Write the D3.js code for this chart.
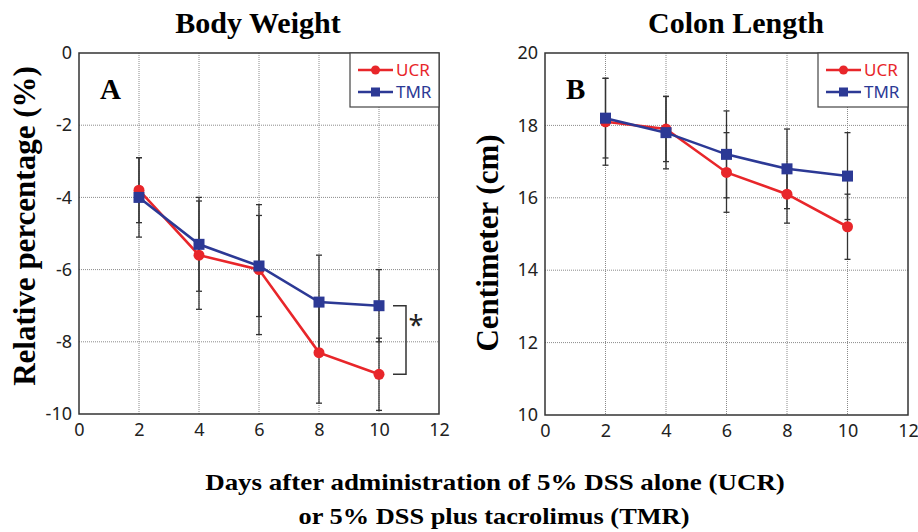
<!DOCTYPE html>
<html><head><meta charset="utf-8">
<script src="https://cdn.jsdelivr.net/npm/d3@7/dist/d3.min.js"></script>
<style>
body{margin:0;background:#fff;}
svg{display:block;}
</style></head>
<body>
<svg id="chart" width="918" height="532"></svg>
<script>
// ---- data ----
const days = [2, 4, 6, 8, 10];
const bwUCR = [-3.8, -5.6, -6.0, -8.3, -8.9];
const bwUCRerr = [0.9, 1.5, 1.8, 1.4, 1.0];
const bwTMR = [-4.0, -5.3, -5.9, -6.9, -7.0];
const bwTMRerr = [1.1, 1.3, 1.4, 1.3, 1.0];
const clUCR = [18.1, 17.9, 16.7, 16.1, 15.2];
const clUCRerr = [1.2, 0.9, 1.1, 0.8, 0.9];
const clTMR = [18.2, 17.8, 17.2, 16.8, 16.6];
const clTMRerr = [1.1, 1.0, 1.2, 1.1, 1.2];
const xTicks = [0, 2, 4, 6, 8, 10, 12];
const bwTicks = [0, -2, -4, -6, -8, -10];
const clTicks = [10, 12, 14, 16, 18, 20];
const seriesNames = ["UCR", "TMR"];

const RED = "#e8262a", BLUE = "#2c3995";
const serif = "'Liberation Serif','Times New Roman',serif";
const sans = "'Noto Sans','Open Sans',sans-serif";

const svg = d3.select("#chart");

function panel(opts) {
  const x = d3.scaleLinear().domain([0, 12]).range([opts.left, opts.right]);
  const y = d3.scaleLinear().domain(opts.yDomain).range([opts.bottom, opts.top]);
  const g = svg.append("g");

  // grid
  g.selectAll(".vg").data(xTicks.slice(1, -1)).enter().append("line")
    .attr("x1", d => x(d)).attr("x2", d => x(d))
    .attr("y1", opts.top).attr("y2", opts.bottom)
    .attr("stroke", "#8a8a8a").attr("stroke-width", 1).attr("stroke-dasharray", "1,1");
  g.selectAll(".hg").data(opts.yTicks.slice(1, -1)).enter().append("line")
    .attr("y1", d => y(d)).attr("y2", d => y(d))
    .attr("x1", opts.left).attr("x2", opts.right)
    .attr("stroke", "#8a8a8a").attr("stroke-width", 1).attr("stroke-dasharray", "1,1");

  // axes
  const ax = g.append("g").attr("transform", `translate(0,${opts.bottom})`)
    .call(d3.axisBottom(x).tickValues(xTicks).tickSize(0).tickPadding(9).tickFormat(d3.format("d")));
  const ay = g.append("g").attr("transform", `translate(${opts.left},0)`)
    .call(d3.axisLeft(y).tickValues(opts.yTicks).tickSize(0).tickPadding(7).tickFormat(d => d < 0 ? "-" + Math.abs(d) : d));
  [ax, ay].forEach(a => {
    a.select(".domain").remove();
    a.selectAll("text").attr("font-family", sans).attr("font-size", 18).attr("fill", "#222");
  });

  // frame
  g.append("rect").attr("x", opts.left).attr("y", opts.top)
    .attr("width", opts.right - opts.left).attr("height", opts.bottom - opts.top)
    .attr("fill", "none").attr("stroke", "#333").attr("stroke-width", 1.5);

  // error bars
  const series = [
    {v: opts.ucr, e: opts.ucrErr, color: RED, shape: "circle"},
    {v: opts.tmr, e: opts.tmrErr, color: BLUE, shape: "square"}
  ];
  series.forEach(s => {
    days.forEach((d, i) => {
      const px = x(d), y1 = y(s.v[i] + s.e[i]), y2 = y(s.v[i] - s.e[i]);
      g.append("line").attr("x1", px).attr("x2", px).attr("y1", y1).attr("y2", y2)
        .attr("stroke", "#333").attr("stroke-width", 1.3);
      [y1, y2].forEach(yy => g.append("line").attr("x1", px - 3).attr("x2", px + 3)
        .attr("y1", yy).attr("y2", yy).attr("stroke", "#333").attr("stroke-width", 1.3));
    });
  });

  // lines + markers
  const line = d3.line().x(d => x(d[0])).y(d => y(d[1]));
  series.forEach(s => {
    const pts = days.map((d, i) => [d, s.v[i]]);
    g.append("path").datum(pts).attr("d", line).attr("fill", "none")
      .attr("stroke", s.color).attr("stroke-width", 2.6);
    if (s.shape === "circle") {
      g.selectAll(null).data(pts).enter().append("circle")
        .attr("cx", d => x(d[0])).attr("cy", d => y(d[1])).attr("r", 5.5).attr("fill", s.color);
    } else {
      g.selectAll(null).data(pts).enter().append("rect")
        .attr("x", d => x(d[0]) - 5.5).attr("y", d => y(d[1]) - 5.5)
        .attr("width", 11).attr("height", 11).attr("fill", s.color);
    }
  });

  // legend
  const lg = g.append("g");
  lg.append("rect").attr("x", opts.legX).attr("y", opts.top)
    .attr("width", opts.right - opts.legX).attr("height", 54)
    .attr("fill", "#fff").attr("stroke", "#444").attr("stroke-width", 1.2);
  seriesNames.forEach((n, i) => {
    const yy = opts.top + 17 + i * 22;
    const lx = opts.legX + 8;
    const c = i === 0 ? RED : BLUE;
    lg.append("line").attr("x1", lx).attr("x2", lx + 35).attr("y1", yy).attr("y2", yy)
      .attr("stroke", c).attr("stroke-width", 2.4);
    if (i === 0) lg.append("circle").attr("cx", lx + 17.5).attr("cy", yy).attr("r", 4.5).attr("fill", c);
    else lg.append("rect").attr("x", lx + 13).attr("y", yy - 4.5).attr("width", 9).attr("height", 9).attr("fill", c);
    lg.append("text").attr("x", lx + 38).attr("y", yy).attr("dy", "0.36em")
      .attr("font-family", sans).attr("font-size", 17).attr("fill", c).text(n);
  });

  // panel letter
  g.append("text").attr("x", opts.left + 21).attr("y", 99)
    .attr("font-family", serif).attr("font-weight", "bold").attr("font-size", 29).text(opts.letter);

  // title
  g.append("text").attr("x", opts.titleX).attr("y", 33).attr("text-anchor", "middle")
    .attr("font-family", serif).attr("font-weight", "bold").attr("font-size", 30).text(opts.title);

  // y label
  g.append("text").attr("transform", `translate(${opts.ylabX},${opts.ylabY}) rotate(-90)`)
    .attr("text-anchor", "middle").attr("font-family", serif).attr("font-weight", "bold")
    .attr("font-size", 31).text(opts.ylab);

  return {x, y, g};
}

const A = panel({left: 79, right: 439, top: 53, bottom: 414, yDomain: [-10, 0], yTicks: bwTicks,
  ucr: bwUCR, ucrErr: bwUCRerr, tmr: bwTMR, tmrErr: bwTMRerr, legX: 350, letter: "A",
  title: "Body Weight", titleX: 258, ylab: "Relative percentage (%)", ylabX: 35, ylabY: 226});

const B = panel({left: 545, right: 908, top: 53, bottom: 415, yDomain: [10, 20], yTicks: clTicks,
  ucr: clUCR, ucrErr: clUCRerr, tmr: clTMR, tmrErr: clTMRerr, legX: 818, letter: "B",
  title: "Colon Length", titleX: 736, ylab: "Centimeter (cm)", ylabX: 498, ylabY: 243});

// significance bracket (panel A, day 10)
const bx = A.x(10);
const yT = A.y(bwTMR[4]), yU = A.y(bwUCR[4]);
A.g.append("path")
  .attr("d", `M${bx + 14},${yT} H${bx + 27} V${yU} H${bx + 14}`)
  .attr("fill", "none").attr("stroke", "#333").attr("stroke-width", 1.5);
A.g.append("text").attr("x", bx + 37).attr("y", yT + 10).attr("dy", "0.7em")
  .attr("text-anchor", "middle").attr("font-family", sans).attr("font-size", 27).attr("fill", "#222").text("*");

// bottom label (stretched horizontally like the reference)
function stretchedText(str, cx, baseline, targetW) {
  const t = svg.append("text").attr("x", 0).attr("y", 0).attr("text-anchor", "middle")
    .attr("font-family", serif).attr("font-weight", "bold").attr("font-size", 23).text(str);
  const w = t.node().getComputedTextLength();
  t.attr("transform", `translate(${cx},${baseline}) scale(${targetW / w},1)`);
}
stretchedText("Days after administration of 5% DSS alone (UCR)", 495, 490, 580);
stretchedText("or 5% DSS plus tacrolimus (TMR)", 494, 524, 391);
</script>
</body></html>
